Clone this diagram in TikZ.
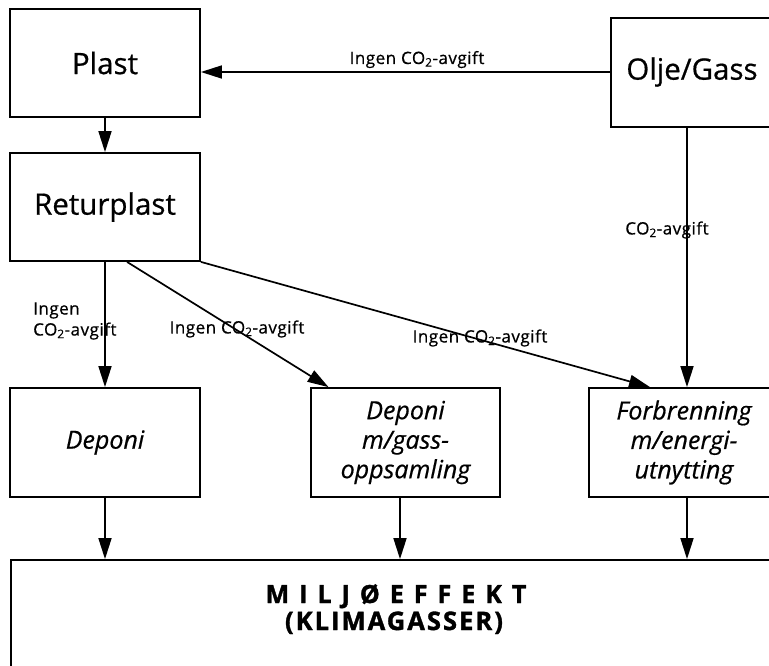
\documentclass[tikz,border=0pt]{standalone}
\usepackage{fontspec}
\setmainfont{Open Sans}[UprightFeatures={FakeBold=0.6},ItalicFeatures={FakeBold=0.6},BoldFeatures={FakeBold=1.4}]
\usetikzlibrary{arrows.meta,calc}
\begin{document}
\begin{tikzpicture}[x=1pt,y=-1pt,
  box/.style={draw,line width=1.8pt,rectangle,inner sep=0pt,align=center},
  conn/.style={line width=1.7pt,-{Triangle[length=21pt,width=13pt]}},
  lab/.style={font=\fontsize{17}{21}\selectfont\addfontfeatures{LetterSpace=3},inner sep=0pt},
  big/.style={font=\fontsize{29.5}{33}\selectfont},
  ital/.style={font=\fontsize{25}{29.5}\selectfont\itshape}]
\useasboundingbox (0,0) rectangle (769,666);
\clip (0,0) rectangle (769,666);
\fill[white] (0,0) rectangle (769,666);
% boxes
\node[box,big,minimum width=190pt,minimum height=108pt] (plast) at (105,63) {Plast};
\node[box,big,minimum width=190pt,minimum height=108pt] (ret) at (105,207) {Returplast};
\node[box,minimum width=166pt,minimum height=109pt] (olje) at (694,72.5) {};
\node[big] (oljet) at (692,72) {Olje/Gass};
\node[box,ital,minimum width=190pt,minimum height=109pt] (dep) at (105,442.5) {Deponi};
\node[box,ital,minimum width=189pt,minimum height=109pt] (mid) at (405.5,442.5) {Deponi\\m/gass-\\oppsamling};
\node[box,minimum width=196pt,minimum height=109pt] (forb) at (687,442.5) {};
\node[ital,align=center] (forbt) at (684,442.5) {Forbrenning\\m/energi-\\utnytting};
\node[box,minimum width=770pt,minimum height=160pt] (milj) at (396,640) {};
\node[anchor=base,font=\fontsize{25}{30}\selectfont\bfseries\addfontfeatures{LetterSpace=40}] (miljt) at (396,603) {MILJØEFFEKT};
\node[anchor=base,font=\fontsize{25.5}{30}\selectfont\bfseries\addfontfeatures{LetterSpace=8}] (klima) at (394,630) {(KLIMAGASSER)};
% connectors
\draw[conn] ($(olje.west)+(0,-0.5)$) -- ($(olje.west -| plast.east)+(0,-0.5)$);
\draw[conn] (plast.south) -- (ret.north);
\draw[conn] ($(olje.south)+(-7,0)$) -- (forb.north);
\draw[conn] (ret.south) -- (dep.north);
\draw[conn] ($(ret.south)+(22,0)$) -- ($(mid.north)+(-77,0)$);
\draw[conn] (ret.south east) -- ($(forb.north)+(-37,0)$);
\draw[conn] (dep.south) -- (dep.south |- milj.north);
\draw[conn] ($(mid.south)+(-5.5,0)$) -- ($(mid.south |- milj.north)+(-5.5,0)$);
\draw[conn] (forb.south) -- (forb.south |- milj.north);
% labels
\node[lab,anchor=base] (l1) at (417,64) {Ingen CO\textsubscript{2}-avgift};
\node[lab] (l2) at (667,230) {CO\textsubscript{2}-avgift};
\node[lab,anchor=west,align=left] (l3) at (33,321) {Ingen\\CO\textsubscript{2}-avgift};
\node[lab] (l4) at (237,329) {Ingen CO\textsubscript{2}-avgift};
\node[lab] (l5) at (480,338) {Ingen CO\textsubscript{2}-avgift};
\end{tikzpicture}
\end{document}
